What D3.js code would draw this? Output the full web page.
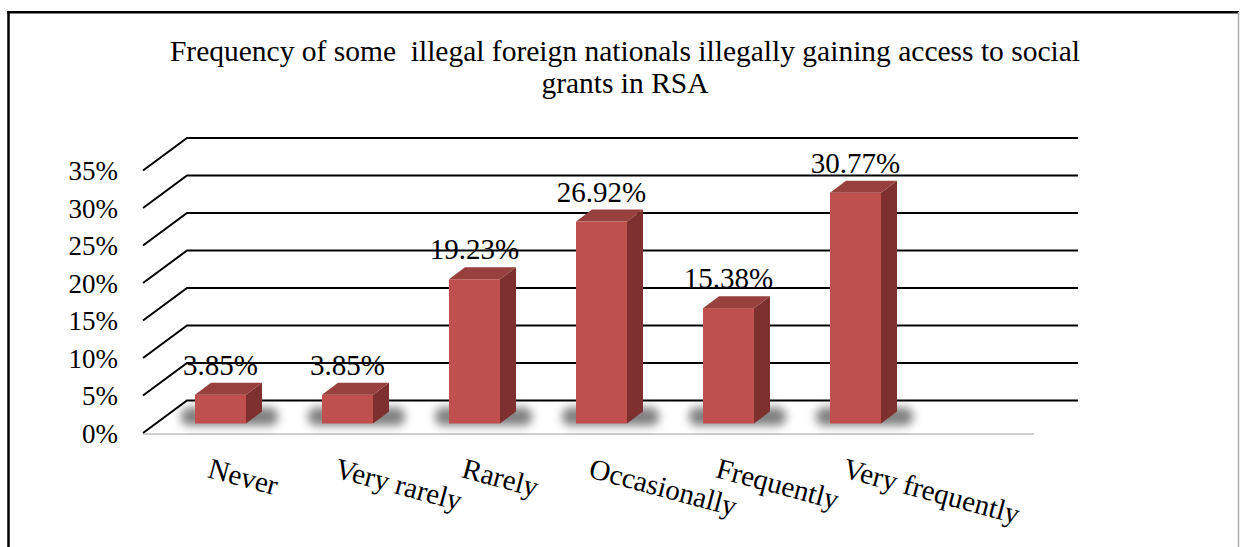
<!DOCTYPE html>
<html>
<head>
<meta charset="utf-8">
<script src="https://cdn.jsdelivr.net/npm/d3@7"></script>
<style>
  html, body { margin: 0; padding: 0; background: #fff; }
  svg { display: block; }
  text { font-family: "Liberation Serif", "Times New Roman", serif; fill: #000; white-space: pre; }
</style>
</head>
<body>
<svg id="chart" width="1240" height="547"></svg>
<script>
// Survey responses: how often illegal foreign nationals gain access to social grants
const categories = ["Never", "Very rarely", "Rarely", "Occasionally", "Frequently", "Very frequently"];
const values = [3.85, 3.85, 19.23, 26.92, 15.38, 30.77];
const tickValues = [0, 5, 10, 15, 20, 25, 30, 35];
const titleLines = [
  "Frequency of some  illegal foreign nationals illegally gaining access to social",
  "grants in RSA"
];

const svg = d3.select("#chart");

// Pseudo-3D geometry: front axis plane, bar plane and back wall share one value scale
const depthX = 44;                       // side-wall depth offset (x)
const barDX = 16, barDY = 12;            // bar depth offset
const frontLeft = 143, floorRight = 1034, backRight = 1078;

const yFront = d3.scaleLinear().domain([0, 35]).range([433, 170.5]);
const yBack  = d3.scaleLinear().domain([0, 35]).range([400.5, 138]);
const yBar   = d3.scaleLinear().domain([0, 35]).range([423.5, 161]);
const x = d3.scaleBand().domain(categories).range([157, 919]).padding(0);
const barW = 51;
const barX = c => x(c) + (x.bandwidth() - barW) / 2;

// Frame
svg.append("line").attr("x1", 8.5).attr("x2", 8.5).attr("y1", 11).attr("y2", 547)
  .attr("stroke", "#000").attr("stroke-width", 2.5);
svg.append("line").attr("x1", 7).attr("x2", 1239).attr("y1", 12.2).attr("y2", 12.2)
  .attr("stroke", "#000").attr("stroke-width", 2.5);
svg.append("line").attr("x1", 1238.5).attr("x2", 1238.5).attr("y1", 12).attr("y2", 547)
  .attr("stroke", "#aaa").attr("stroke-width", 1.5);

// Title
svg.append("text")
  .attr("text-anchor", "middle")
  .style("font-size", "29.5px")
  .selectAll("tspan").data(titleLines).join("tspan")
  .attr("x", 625).attr("y", (d, i) => 61 + i * 32)
  .text(d => d);

// Floor front edge
svg.append("line")
  .attr("x1", frontLeft).attr("x2", floorRight)
  .attr("y1", yFront(0) + 1).attr("y2", yFront(0) + 1)
  .attr("stroke", "#cfcfcf").attr("stroke-width", 2);

// Gridlines: side-wall diagonal plus back-wall horizontal
svg.append("g").attr("class", "grid")
  .selectAll("path").data(tickValues).join("path")
  .attr("d", v => `M${frontLeft},${yFront(v)}L${frontLeft + depthX},${yBack(v)}L${backRight},${yBack(v)}`)
  .attr("fill", "none").attr("stroke", "#000").attr("stroke-width", 2);

// Value axis labels
const axis = d3.axisLeft(yFront).tickValues(tickValues).tickFormat(d => d + "%")
  .tickSize(0).tickPadding(25);
const gAxis = svg.append("g").attr("transform", `translate(${frontLeft},0)`).call(axis);
gAxis.attr("font-family", null).attr("font-size", null);
gAxis.select(".domain").remove();
gAxis.selectAll("text").style("font-size", "27px").attr("dy", "0.35em");

// Soft base shadows
const defs = svg.append("defs");
defs.append("filter").attr("id", "shadowBlur").attr("x", "-50%").attr("y", "-100%")
  .attr("width", "200%").attr("height", "300%")
  .append("feGaussianBlur").attr("stdDeviation", 5);

const bars = svg.append("g").attr("class", "bars");
const data = categories.map((c, i) => ({ c, v: values[i] }));

bars.selectAll("rect.shadow").data(data).join("rect")
  .attr("class", "shadow")
  .attr("x", d => barX(d.c) - 14)
  .attr("y", yBar(0) - barDY - 4)
  .attr("width", barW + barDX + 30)
  .attr("height", 18)
  .attr("rx", 8)
  .attr("fill", "#000").attr("opacity", 0.5)
  .attr("filter", "url(#shadowBlur)");

// Front faces
bars.selectAll("rect.front").data(data).join("rect")
  .attr("class", "front")
  .attr("x", d => barX(d.c))
  .attr("y", d => yBar(d.v))
  .attr("width", barW)
  .attr("height", d => yBar(0) - yBar(d.v))
  .attr("fill", "#c0504d");

// Side faces
bars.selectAll("path.side").data(data).join("path")
  .attr("class", "side")
  .attr("d", d => {
    const x0 = barX(d.c) + barW, t = yBar(d.v), b = yBar(0);
    return `M${x0},${t}L${x0 + barDX},${t - barDY}L${x0 + barDX},${b - barDY}L${x0},${b}Z`;
  })
  .attr("fill", "#7d302e");

// Top faces
bars.selectAll("path.top").data(data).join("path")
  .attr("class", "top")
  .attr("d", d => {
    const x0 = barX(d.c), t = yBar(d.v);
    return `M${x0},${t}L${x0 + barDX},${t - barDY}L${x0 + barW + barDX},${t - barDY}L${x0 + barW},${t}Z`;
  })
  .attr("fill", "#97403d");

// Value labels
svg.append("g").selectAll("text").data(data).join("text")
  .attr("x", d => barX(d.c) + barW / 2)
  .attr("y", d => yBar(d.v) - barDY - 8)
  .attr("text-anchor", "middle")
  .style("font-size", "29px")
  .text(d => d.v.toFixed(2) + "%");

// Category labels, rotated
svg.append("g").selectAll("text").data(categories).join("text")
  .attr("transform", c => `translate(${x(c) + x.bandwidth() / 2 - 14},477) rotate(15)`)
  .style("font-size", "29px")
  .text(c => c);
</script>
</body>
</html>
